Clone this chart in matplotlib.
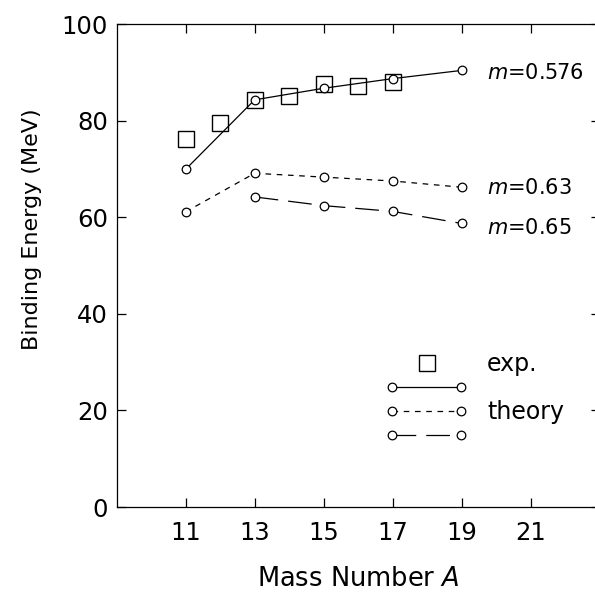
import matplotlib
matplotlib.use("Agg")
import matplotlib.pyplot as plt
from matplotlib.legend_handler import HandlerLine2D

plt.rcParams['font.family'] = ['DejaVu Sans']
plt.rcParams['mathtext.fontset'] = 'dejavusans'

# experimental binding energies
A_exp = [11, 12, 13, 14, 15, 16, 17]
B_exp = [76.1, 79.6, 84.3, 85.2, 87.5, 87.1, 88.0]

# theory curves
A_576 = [11, 13, 15, 17, 19]
B_576 = [69.9, 84.3, 86.7, 88.7, 90.4]
A_063 = [11, 13, 15, 17, 19]
B_063 = [61.1, 69.1, 68.3, 67.5, 66.2]
A_065 = [13, 15, 17, 19]
B_065 = [64.2, 62.4, 61.2, 58.7]

labels = ['$m$=0.576', '$m$=0.63', '$m$=0.65']
label_y = [89.8, 66.0, 57.7]

fig = plt.figure(figsize=(5.95, 5.93), dpi=100)
ax = fig.add_axes([0.1958, 0.145, 0.8126, 0.8145])

circ = dict(marker='o', ms=6.2, mfc='white', mec='black', mew=0.9, color='black', lw=0.9)

sq, = ax.plot(A_exp, B_exp, ls='none', marker='s', ms=11.5, mfc='none', mec='black', mew=1.0, zorder=2)
l1, = ax.plot(A_576, B_576, ls='-', zorder=3, **circ)
l2, = ax.plot(A_063, B_063, ls=(0, (4.5, 4.5)), zorder=3, **circ)
l3, = ax.plot(A_065, B_065, ls=(0, (19, 8)), zorder=3, **circ)

for lab, yy in zip(labels, label_y):
    ax.text(19.73, yy, lab, fontsize=15, va='center', ha='left')

ax.set_xlim(9, 23)
ax.set_ylim(0, 100)
ax.set_xticks([11, 13, 15, 17, 19, 21])
ax.set_yticks([0, 20, 40, 60, 80, 100])
ax.tick_params(direction='in', length=6.5, width=0.9, top=True, right=True,
               labelsize=17.5)
ax.tick_params(axis='x', pad=10)
ax.tick_params(axis='y', pad=6)
for s in ax.spines.values():
    s.set_linewidth(0.9)

ax.set_xlabel('Mass Number $A$', fontsize=18.5, labelpad=15)
ax.set_ylabel('Binding Energy (MeV)', fontsize=16)
ax.yaxis.set_label_coords(-0.154, 0.576)

leg = ax.legend([sq, l1, l2, l3], ['exp.', '', 'theory', ''],
                loc='upper left', bbox_to_anchor=(0.556, 0.321), frameon=False,
                fontsize=17, numpoints=2, handlelength=3.49, handletextpad=0.82,
                labelspacing=0.01, borderpad=0, borderaxespad=0,
                handler_map={sq: HandlerLine2D(numpoints=1)})

fig.savefig('out.png', dpi=100)
